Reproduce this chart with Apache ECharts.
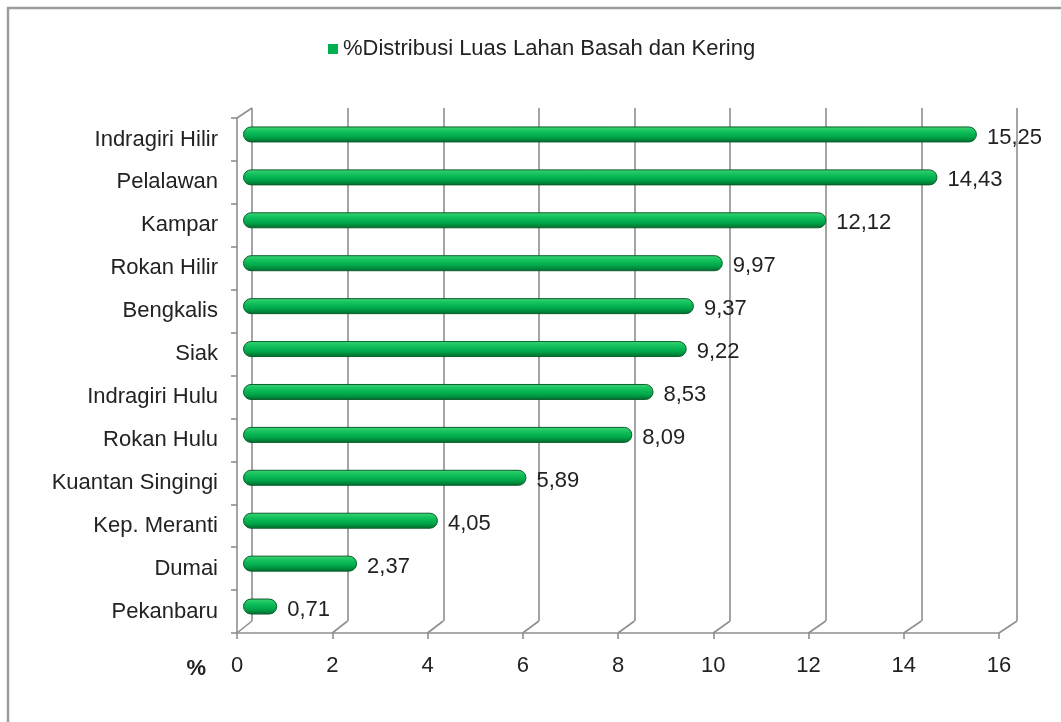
<!DOCTYPE html>
<html>
<head>
<meta charset="utf-8">
<script src="https://cdn.jsdelivr.net/npm/echarts@6/dist/echarts.min.js"></script>
<style>
  html, body { margin: 0; padding: 0; background: #ffffff; }
  #chart { width: 1061px; height: 722px; }
</style>
</head>
<body>
<div id="chart"></div>
<script>
const categories = ['Indragiri Hilir', 'Pelalawan', 'Kampar', 'Rokan Hilir', 'Bengkalis', 'Siak',
  'Indragiri Hulu', 'Rokan Hulu', 'Kuantan Singingi', 'Kep. Meranti', 'Dumai', 'Pekanbaru'];
const values = [15.25, 14.43, 12.12, 9.97, 9.37, 9.22, 8.53, 8.09, 5.89, 4.05, 2.37, 0.71];
const seriesName = '%Distribusi Luas Lahan Basah dan Kering';
const axisMin = 0;
const axisMax = 16;
const axisStep = 2;
const axisName = '%';

const FONT = "'Liberation Sans', Arial, sans-serif";
const TEXT = '#222222';
const LINE = '#8f8f8f';
const H = 722;

// grids: back wall, bar plane, front axes
const gBack = { left: 252, right: 44, top: 108, bottom: 101 };
const gBar = { left: 243, right: 48, top: 113, bottom: 94 };
const gFront = { left: 237, right: 62, top: 118, bottom: 89 };

const chart = echarts.init(document.getElementById('chart'), null, { renderer: 'canvas' });

const hiddenVal = (gi, extra) => Object.assign({
  type: 'value', gridIndex: gi, min: axisMin, max: axisMax, interval: axisStep,
  axisLine: { show: false }, axisTick: { show: false }, axisLabel: { show: false },
  splitLine: { show: false }
}, extra || {});
const hiddenCat = (gi) => ({
  type: 'category', gridIndex: gi, data: categories, inverse: true,
  axisLine: { show: false }, axisTick: { show: false }, axisLabel: { show: false }, splitLine: { show: false }
});

const option = {
  backgroundColor: '#ffffff',
  animation: false,
  textStyle: { fontFamily: FONT },
  legend: {
    left: 328, top: 38, padding: 0,
    itemWidth: 10, itemHeight: 10, itemGap: 7,
    icon: 'rect',
    itemStyle: { color: '#00b050', borderWidth: 0 },
    textStyle: { fontSize: 22, color: TEXT, fontFamily: FONT, lineHeight: 22, padding: [0, 0, 0, 0] },
    data: [seriesName]
  },
  grid: [
    Object.assign({}, gBack),
    Object.assign({}, gBar),
    Object.assign({}, gFront)
  ],
  xAxis: [
    hiddenVal(0, { splitLine: { show: true, lineStyle: { color: LINE, width: 1.6 } } }),
    hiddenVal(1),
    {
      type: 'value', gridIndex: 2, min: axisMin, max: axisMax, interval: axisStep, position: 'bottom',
      axisLine: { show: true, onZero: false, lineStyle: { color: LINE, width: 1.6 } },
      axisTick: { show: true, length: 6, lineStyle: { color: LINE, width: 1.6 } },
      axisLabel: { show: true, fontSize: 22, color: TEXT, fontFamily: FONT, margin: 22 },
      splitLine: { show: false },
      name: axisName, nameLocation: 'start', nameGap: 31,
      nameTextStyle: { fontSize: 22, color: TEXT, fontFamily: FONT, fontWeight: 'bold',
        align: 'right', verticalAlign: 'top', padding: [25, 0, 0, 0] }
    }
  ],
  yAxis: [
    hiddenCat(0),
    hiddenCat(1),
    {
      type: 'category', gridIndex: 2, data: categories, inverse: true,
      axisLine: { show: true, lineStyle: { color: LINE, width: 1.6 } },
      axisTick: { show: true, length: 6, lineStyle: { color: LINE, width: 1.6 } },
      axisLabel: { show: true, fontSize: 22, color: TEXT, fontFamily: FONT, margin: 19 },
      splitLine: { show: false }
    }
  ],
  series: [{
    name: seriesName,
    type: 'bar',
    xAxisIndex: 1, yAxisIndex: 1,
    data: values,
    barWidth: 16,
    itemStyle: {
      color: new echarts.graphic.LinearGradient(0, 0, 0, 1, [
        { offset: 0, color: '#3fd476' },
        { offset: 0.3, color: '#12c25c' },
        { offset: 0.65, color: '#00a74a' },
        { offset: 1, color: '#006a2d' }
      ]),
      borderColor: '#0c5f2b', borderWidth: 1, borderRadius: 8
    },
    label: {
      show: true, position: 'right', distance: 10, offset: [0, 3],
      fontSize: 22, color: TEXT, fontFamily: FONT,
      formatter: p => p.value.toFixed(2).replace('.', ',')
    }
  }],
  color: ['#00b050']
};

chart.setOption(option);

// 3D wall / floor edges derived from the axes' own scales
const frontBottom = H - gFront.bottom, backBottom = H - gBack.bottom;
const graphics = [{
  type: 'rect', shape: { x: 8, y: 8, width: 1200, height: 900 },
  style: { fill: 'none', stroke: '#9c9c9c', lineWidth: 2.5 }, silent: true
}];
for (let v = axisMin; v <= axisMax; v += axisStep) {
  const xf = chart.convertToPixel({ xAxisIndex: 2 }, v);
  const xb = chart.convertToPixel({ xAxisIndex: 0 }, v);
  graphics.push({
    type: 'line', shape: { x1: xf, y1: frontBottom, x2: xb, y2: backBottom },
    style: { stroke: LINE, lineWidth: 1.6 }, silent: true
  });
}
{
  const xf = chart.convertToPixel({ xAxisIndex: 2 }, axisMin);
  const xb = chart.convertToPixel({ xAxisIndex: 0 }, axisMin);
  graphics.push({
    type: 'line', shape: { x1: xf, y1: gFront.top, x2: xb, y2: gBack.top },
    style: { stroke: LINE, lineWidth: 1.6 }, silent: true
  });
}
chart.setOption({ graphic: graphics });
</script>
</body>
</html>
